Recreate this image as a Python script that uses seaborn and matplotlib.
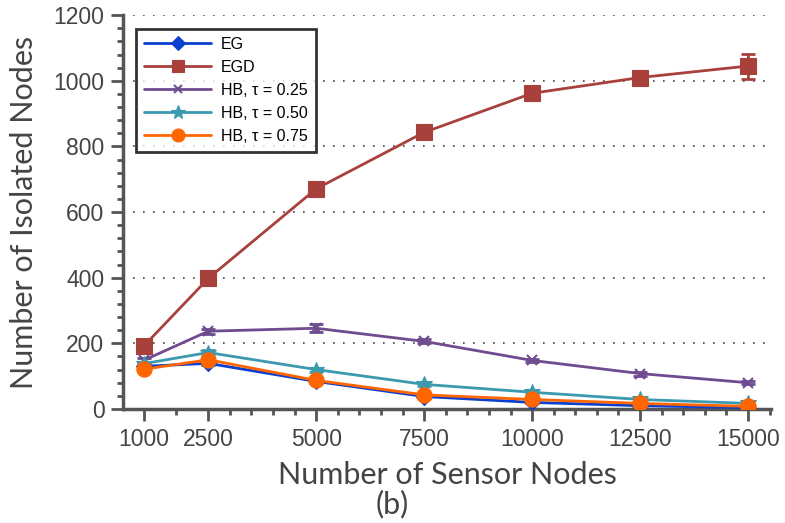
import matplotlib
matplotlib.use("Agg")
import matplotlib.pyplot as plt
import seaborn as sns
import pandas as pd
import numpy as np
from matplotlib.ticker import FixedLocator, MultipleLocator

sensor_nodes = [1000, 2500, 5000, 7500, 10000, 12500, 15000]
eg = [130, 139, 84, 38, 20, 10, 4]
egd = [191, 398, 671, 843, 962, 1010, 1045]
hb25 = [148, 237, 246, 206, 148, 108, 80]
hb50 = [138, 172, 120, 75, 51, 29, 17]
hb75 = [121, 150, 87, 43, 29, 17, 8]
eg_err = [4, 5, 4, 3, 3, 2, 2]
egd_err = [10, 8, 8, 15, 20, 12, 38]
hb25_err = [6, 8, 12, 6, 5, 6, 5]
hb50_err = [6, 8, 6, 5, 5, 4, 4]
hb75_err = [5, 6, 4, 4, 3, 3, 2]

series_names = ["EG", "EGD", "HB, \u03c4 = 0.25", "HB, \u03c4 = 0.50", "HB, \u03c4 = 0.75"]
series_vals = [eg, egd, hb25, hb50, hb75]
series_errs = [eg_err, egd_err, hb25_err, hb50_err, hb75_err]
colors = ["#0b3fd0", "#a8413c", "#6e4c8f", "#3b99b0", "#ff6600"]
markers = ["D", "s", "x", "*", "o"]
msizes = [8, 11, 7, 12, 11]

sns.set_theme(style="white")
plt.rcParams['font.family'] = ['Lato', 'DejaVu Sans']

fig = plt.figure(figsize=(7.85, 5.23), dpi=100)
ax = fig.add_axes([0.157, 0.218, 0.825, 0.753])

gray = "#555555"
txt = "#444444"
for name, vals, errs, c, m, ms in zip(series_names, series_vals, series_errs, colors, markers, msizes):
    df = pd.DataFrame({"x": sensor_nodes, "y": vals})
    ax.errorbar(sensor_nodes, vals, yerr=errs, fmt="none", ecolor=c, elinewidth=2,
                capsize=5, capthick=2, zorder=2)
    sns.lineplot(data=df, x="x", y="y", ax=ax, color=c, marker=m, markersize=ms,
                 markeredgecolor=c, markeredgewidth=1.5 if m == "x" else 0.8,
                 linewidth=2, label=name, zorder=3)

ax.set_xlim(530, 15530)
ax.set_ylim(0, 1200)
ax.xaxis.set_major_locator(FixedLocator(sensor_nodes))
ax.xaxis.set_minor_locator(FixedLocator([1750, 3000, 3500, 4000, 4500, 5500, 6000, 6500, 7000,
                                         8000, 8500, 9000, 9500, 10500, 11000, 11500, 12000,
                                         13000, 13500, 14000, 14500, 15500]))
ax.yaxis.set_major_locator(MultipleLocator(200))
ax.yaxis.set_minor_locator(MultipleLocator(40))

for s in ["top", "right"]:
    ax.spines[s].set_visible(False)
for s in ["left", "bottom"]:
    ax.spines[s].set_color(gray)
    ax.spines[s].set_linewidth(2.5)

ax.tick_params(axis="both", which="major", direction="out", length=8.5, width=2,
               color=gray, labelcolor=txt, labelsize=16.5, left=True, bottom=True, pad=5)
ax.tick_params(axis="both", which="minor", direction="out", length=4.5, width=2,
               color=gray, left=True, bottom=True)
for lab in ax.get_xticklabels() + ax.get_yticklabels():
    lab.set_family("Liberation Sans")

for yv in range(200, 1201, 200):
    ax.axhline(yv, color="#444444", linestyle=(0, (1, 5)), linewidth=1.2, zorder=1)

ax.set_xlabel("Number of Sensor Nodes", fontsize=22, color=txt)
ax.set_ylabel("Number of Isolated Nodes", fontsize=22, color=txt)
ax.xaxis.set_label_coords(0.5, -0.133)
ax.yaxis.set_label_coords(-0.132, 0.5)
fig.text(0.5, 0.036, "(b)", fontsize=22, color=txt, ha="center", va="center")

leg = ax.legend(loc="upper left", bbox_to_anchor=(0.008, 0.985),
                prop={"family": "Liberation Sans", "size": 11.5},
                frameon=True, fancybox=False, handlelength=4.2, borderpad=0.5,
                labelspacing=0.5, markerscale=0.85, handletextpad=0.6)
leg.get_frame().set_edgecolor("black")
leg.get_frame().set_linewidth(2)
for t in leg.get_texts():
    t.set_color("black")

fig.savefig("out.png", dpi=100)
